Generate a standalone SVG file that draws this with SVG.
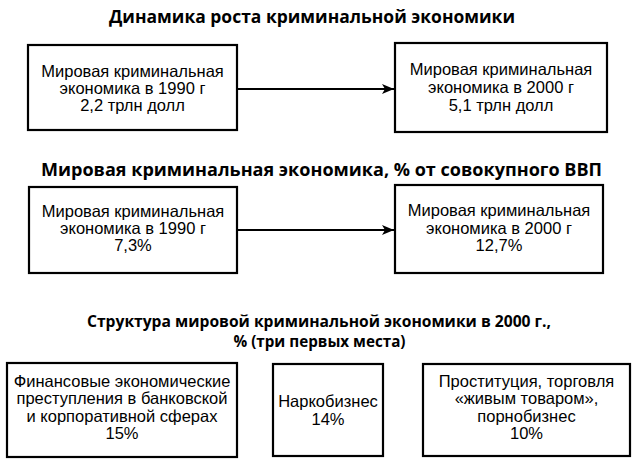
<svg xmlns="http://www.w3.org/2000/svg" width="638" height="466" viewBox="0 0 638 466">
<defs>
<marker id="arr" viewBox="0 0 12 10" refX="12" refY="5" markerWidth="12" markerHeight="10" markerUnits="userSpaceOnUse" orient="auto">
<path d="M0,0 L12,5 L0,10 L3,5 Z" fill="#000"/>
</marker>
<style>
.box{fill:#fff;stroke:#000;stroke-width:2.2}
.t{font-family:"Liberation Sans",Arial,sans-serif;font-size:16.5px;fill:#000;text-anchor:middle}
.h{font-family:"Open Sans","Liberation Sans",Arial,sans-serif;font-size:17px;font-weight:bold;fill:#000;text-anchor:middle}
.h3{font-size:16px}
.c{stroke:#000;stroke-width:1.8;fill:none}
</style>
</defs>
<rect width="638" height="466" fill="#fff"/>
<g id="titles">
<text class="h" x="312" y="23" textLength="406" lengthAdjust="spacingAndGlyphs">Динамика роста криминальной экономики</text>
<text class="h" x="321.5" y="176" textLength="561" lengthAdjust="spacingAndGlyphs">Мировая криминальная экономика, % от совокупного ВВП</text>
<text class="h h3" x="319" y="327" textLength="464" lengthAdjust="spacingAndGlyphs">Структура мировой криминальной экономики в 2000 г.,</text>
<text class="h h3" x="319.5" y="347" textLength="172" lengthAdjust="spacingAndGlyphs">% (три первых места)</text>
</g>
<g id="n1990usd">
<rect class="box" x="28" y="45" width="209" height="85"/>
<text class="t" x="132.5" y="77">Мировая криминальная</text>
<text class="t" x="132.5" y="94">экономика в 1990 г</text>
<text class="t" x="132.5" y="111">2,2 трлн долл</text>
</g>
<g id="n2000usd">
<rect class="box" x="395" y="43" width="212" height="89"/>
<text class="t" x="501" y="75">Мировая криминальная</text>
<text class="t" x="501" y="93">экономика в 2000 г</text>
<text class="t" x="501" y="111">5,1 трлн долл</text>
</g>
<g id="n1990pct">
<rect class="box" x="29" y="187" width="208" height="86"/>
<text class="t" x="133" y="217">Мировая криминальная</text>
<text class="t" x="133" y="234">экономика в 1990 г</text>
<text class="t" x="133" y="251">7,3%</text>
</g>
<g id="n2000pct">
<rect class="box" x="395" y="185" width="208" height="88"/>
<text class="t" x="499" y="216">Мировая криминальная</text>
<text class="t" x="499" y="234">экономика в 2000 г</text>
<text class="t" x="499" y="251">12,7%</text>
</g>
<g id="nfin">
<rect class="box" x="7" y="363" width="230" height="94"/>
<text class="t" x="122" y="387">Финансовые экономические</text>
<text class="t" x="122" y="404">преступления в банковской</text>
<text class="t" x="122" y="422">и корпоративной сферах</text>
<text class="t" x="122" y="439">15%</text>
</g>
<g id="ndrug">
<rect class="box" x="273" y="364" width="110" height="92"/>
<text class="t" x="328" y="407">Наркобизнес</text>
<text class="t" x="328" y="425">14%</text>
</g>
<g id="nprost">
<rect class="box" x="423" y="364" width="207" height="92"/>
<text class="t" x="526.5" y="387">Проституция, торговля</text>
<text class="t" x="526.5" y="404">«живым товаром»,</text>
<text class="t" x="526.5" y="422">порнобизнес</text>
<text class="t" x="526.5" y="439">10%</text>
</g>
<g id="connectors">
<line class="c" x1="238" y1="89" x2="394" y2="89" marker-end="url(#arr)"/>
<line class="c" x1="238" y1="230" x2="394" y2="230" marker-end="url(#arr)"/>
</g>
</svg>
